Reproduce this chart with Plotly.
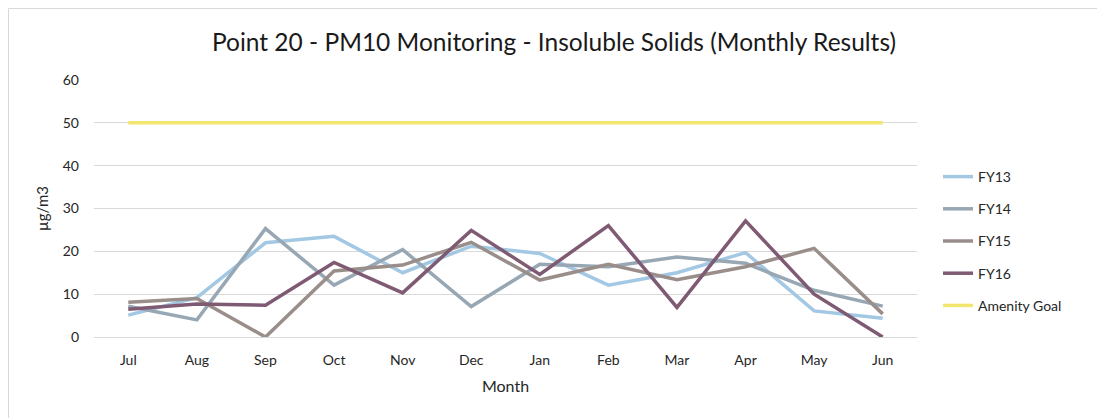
import plotly.graph_objects as go

MONTHS = ["Jul", "Aug", "Sep", "Oct", "Nov", "Dec", "Jan", "Feb", "Mar", "Apr", "May", "Jun"]
FY13 = [5.1, 9.2, 22.0, 23.5, 15.0, 21.2, 19.5, 12.1, 15.0, 19.7, 6.1, 4.4]
FY14 = [7.2, 4.0, 25.3, 12.1, 20.4, 7.1, 17.0, 16.4, 18.7, 17.2, 10.9, 7.2]
FY15 = [8.1, 9.0, 0.0, 15.4, 16.8, 22.1, 13.3, 17.0, 13.4, 16.4, 20.7, 5.4]
FY16 = [6.5, 7.7, 7.4, 17.4, 10.3, 24.9, 14.6, 26.0, 6.9, 27.1, 10.0, 0.0]
AMENITY_GOAL = [50] * 12

SERIES = [
    ("FY13", FY13, "#a3c8e4"),
    ("FY14", FY14, "#97a7b3"),
    ("FY15", FY15, "#9a8e8a"),
    ("FY16", FY16, "#7f5a73"),
    ("Amenity Goal", AMENITY_GOAL, "#f2e66e"),
]

FONT = "Lato, 'Open Sans', sans-serif"
W, H = 1097, 410

fig = go.Figure()
for name, values, color in SERIES:
    fig.add_trace(go.Scatter(
        x=MONTHS, y=values, mode="lines", name=name, legendgroup=name,
        line=dict(color=color, width=3.5),
    ))

# plot area spans 86..909 px horizontally, 72..329 px vertically (figure coords)
L, R, T, B = 86, 909, 72, 329
pw = R - L
ph = B - T
fig.add_shape(
    type="rect", xref="paper", yref="paper",
    x0=(0.5 - L) / pw, x1=(1094 - L) / pw,
    y0=(B - 430) / ph, y1=(B - 0.5) / ph,
    line=dict(color="#d9d9d9", width=1), fillcolor="rgba(0,0,0,0)", layer="below",
)

fig.update_layout(
    width=W, height=H,
    margin=dict(l=L, r=W - R, t=T, b=H - B),
    paper_bgcolor="white", plot_bgcolor="white",
    font=dict(family=FONT, size=14, color="#404040"),
    title=dict(
        text="Point 20 - PM10 Monitoring - Insoluble Solids (Monthly Results)",
        x=(546 - L) / pw, xref="paper", xanchor="center", y=1 - 34 / H, yanchor="middle",
        font=dict(family=FONT, size=24.5, color="#1a1a1a"),
    ),
    xaxis=dict(
        title=dict(text="Month", font=dict(size=16, color="#262626"), standoff=14),
        range=[-0.5, 11.5],
        showgrid=False, showline=True, linecolor="#d9d9d9", linewidth=1,
        ticks="", tickfont=dict(size=14, color="#262626"), ticklabelstandoff=10,
    ),
    yaxis=dict(
        title=dict(text="µg/m3", font=dict(size=15, color="#262626"), standoff=10),
        range=[0, 60], dtick=10, showgrid=True, gridcolor="#d9d9d9", gridwidth=1,
        zeroline=False, showline=False, ticks="",
        tickfont=dict(size=14, color="#262626"), ticklabelstandoff=14,
    ),
    legend=dict(
        x=(930 - L) / pw, xanchor="left", y=(B - 153) / ph, yanchor="top",
        font=dict(size=14, color="#262626"), tracegroupgap=11,
        bgcolor="rgba(0,0,0,0)",
    ),
    showlegend=True,
)

fig.write_html("out.html")
